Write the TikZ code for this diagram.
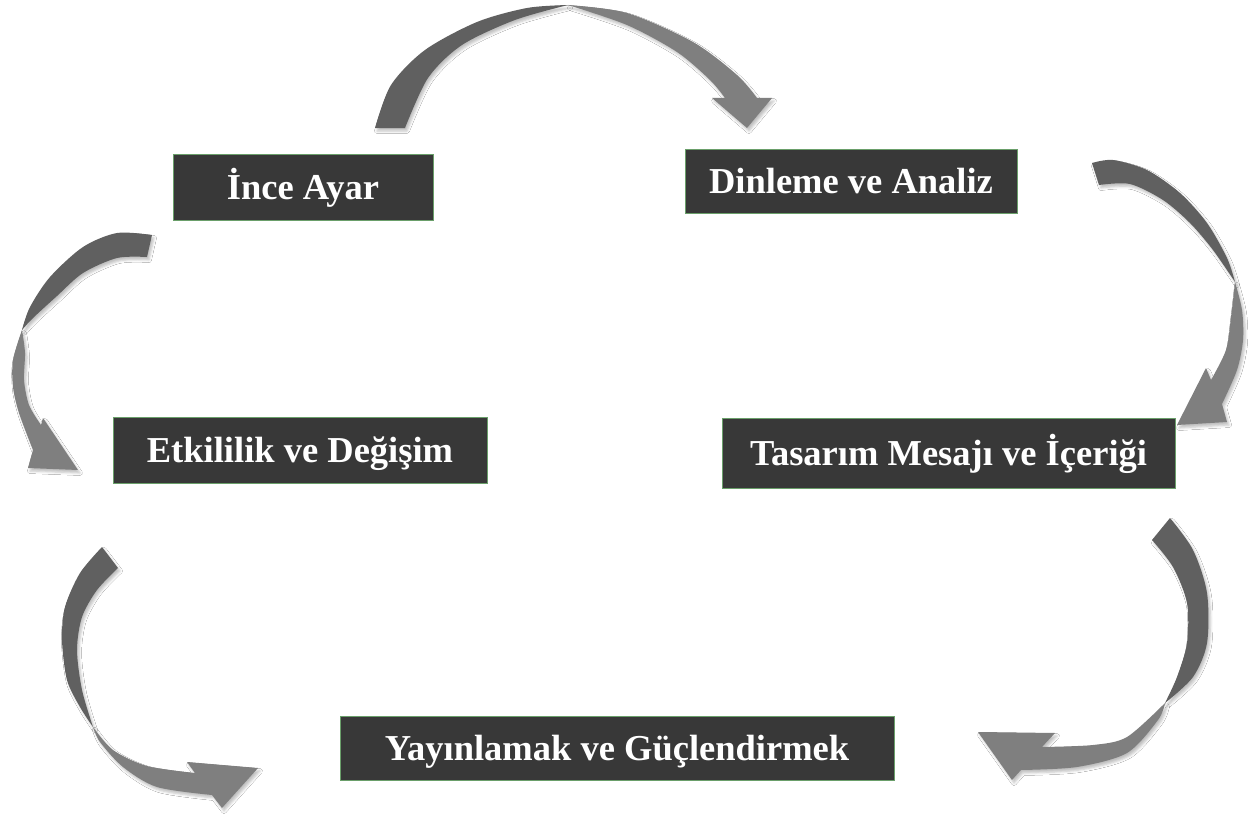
\documentclass[tikz,border=0pt]{standalone}
\usepackage{fontspec}
\setmainfont{Liberation Serif}
\usetikzlibrary{shadows.blur}
\definecolor{boxfill}{HTML}{383838}
\definecolor{boxline}{HTML}{6A9F6A}
\definecolor{arrdark}{HTML}{606060}
\definecolor{arrlight}{HTML}{7F7F7F}
\begin{document}
\begin{tikzpicture}[x=1pt,y=-1pt,
  box/.style={draw=boxline, line width=0.9pt, fill=boxfill, text=white,
    font=\fontsize{36.5}{40}\selectfont\bfseries, inner sep=0pt, anchor=center,
    text height=32pt, text depth=8pt},
  arrshadow/.style={blur shadow={shadow xshift=2pt, shadow yshift=-3pt, shadow blur radius=2.5pt, shadow opacity=25}},
  taildark/.style={fill=arrdark, arrshadow},
  headlight/.style={fill=arrlight, arrshadow}]
\useasboundingbox (0,0) rectangle (1251,816);
\fill[white] (0,0) rectangle (1251,816);

% ---------- arrows ----------
% top arrow: Ince Ayar -> Dinleme ve Analiz
\fill[taildark] plot[smooth] coordinates {(375,128) (391,85) (425,50) (477,22) (527,8) (568,5)}
  -- plot[smooth] coordinates {(568,5) (515,20) (462,45) (428,78) (405,128)} -- cycle;
\fill[headlight] plot[smooth] coordinates {(568,5) (627,13) (693,42) (737,75) (757,98)}
  -- (772,98) -- (747,128) -- (712,98) -- (725,98)
  -- plot[smooth] coordinates {(725,98) (710,80) (677,52) (627,25) (568,5)} -- cycle;

% right arrow: Dinleme ve Analiz -> Tasarim
\fill[taildark] plot[smooth] coordinates {(1092,163) (1113,160) (1147,170) (1180,193) (1207,223) (1227,258) (1235,282)}
  -- plot[smooth] coordinates {(1235,282) (1213,250) (1190,223) (1163,200) (1130,184) (1099,185)} -- cycle;
\fill[headlight] plot[smooth] coordinates {(1235,282) (1242,310) (1243,340) (1237,370) (1222,404)}
  -- (1227,422) -- (1177,425) -- (1206,368) -- (1211,380)
  -- plot[smooth] coordinates {(1211,380) (1226,350) (1231,317) (1235,282)} -- cycle;

% bottom-right arrow: Tasarim -> Yayinlamak
\fill[taildark] plot[smooth] coordinates {(1170,518) (1193,550) (1207,593) (1207,643) (1193,677) (1165,703)}
  -- plot[smooth] coordinates {(1165,703) (1177,677) (1187,643) (1187,603) (1173,567) (1152,540)} -- cycle;
\fill[headlight] plot[smooth] coordinates {(1165,703) (1127,737) (1093,745) (1042,747)}
  -- (1055,733) -- (978,732) -- (1012,780) -- (1021,770)
  -- plot[smooth] coordinates {(1021,770) (1077,767) (1127,753) (1158,720) (1165,703)} -- cycle;

% bottom-left arrow: Etkililik -> Yayinlamak
\fill[taildark] plot[smooth] coordinates {(102,547) (80,573) (65,607) (62,640) (67,680) (80,707) (93,727)}
  -- plot[smooth] coordinates {(93,727) (82,690) (77,650) (82,617) (97,590) (118,568)} -- cycle;
\fill[headlight] plot[smooth] coordinates {(93,727) (113,750) (147,766) (195,773)}
  -- (187,762) -- (258,768) -- (222,808) -- (212,795)
  -- plot[smooth] coordinates {(212,795) (157,787) (123,767) (100,742) (93,727)} -- cycle;

% left arrow: Ince Ayar -> Etkililik
\fill[taildark] plot[smooth] coordinates {(152,235) (117,233) (83,247) (50,277) (30,307) (22,330)}
  -- plot[smooth] coordinates {(22,330) (33,318) (57,296) (83,273) (117,258) (147,257)} -- cycle;
\fill[headlight] plot[smooth] coordinates {(22,330) (13,360) (13,387) (19,413) (33,450)}
  -- (28,468) -- (78,470) -- (43,418) -- (41,425)
  -- plot[smooth] coordinates {(41,425) (29,405) (24,380) (25,353) (22,330)} -- cycle;

% ---------- boxes ----------
\node[box, minimum width=260pt, minimum height=66pt] (ince) at (303,187) {İnce Ayar};
\node[box, minimum width=332pt, minimum height=64pt] (dinleme) at (851,181) {Dinleme ve Analiz};
\node[box, minimum width=374pt, minimum height=66pt] (etki) at (300,450) {Etkililik ve Değişim};
\node[box, minimum width=453pt, minimum height=70pt] (tasarim) at (948.5,453) {Tasarım Mesajı ve İçeriği};
\node[box, minimum width=554pt, minimum height=64pt] (yayin) at (617,748) {Yayınlamak ve Güçlendirmek};
\end{tikzpicture}
\end{document}
